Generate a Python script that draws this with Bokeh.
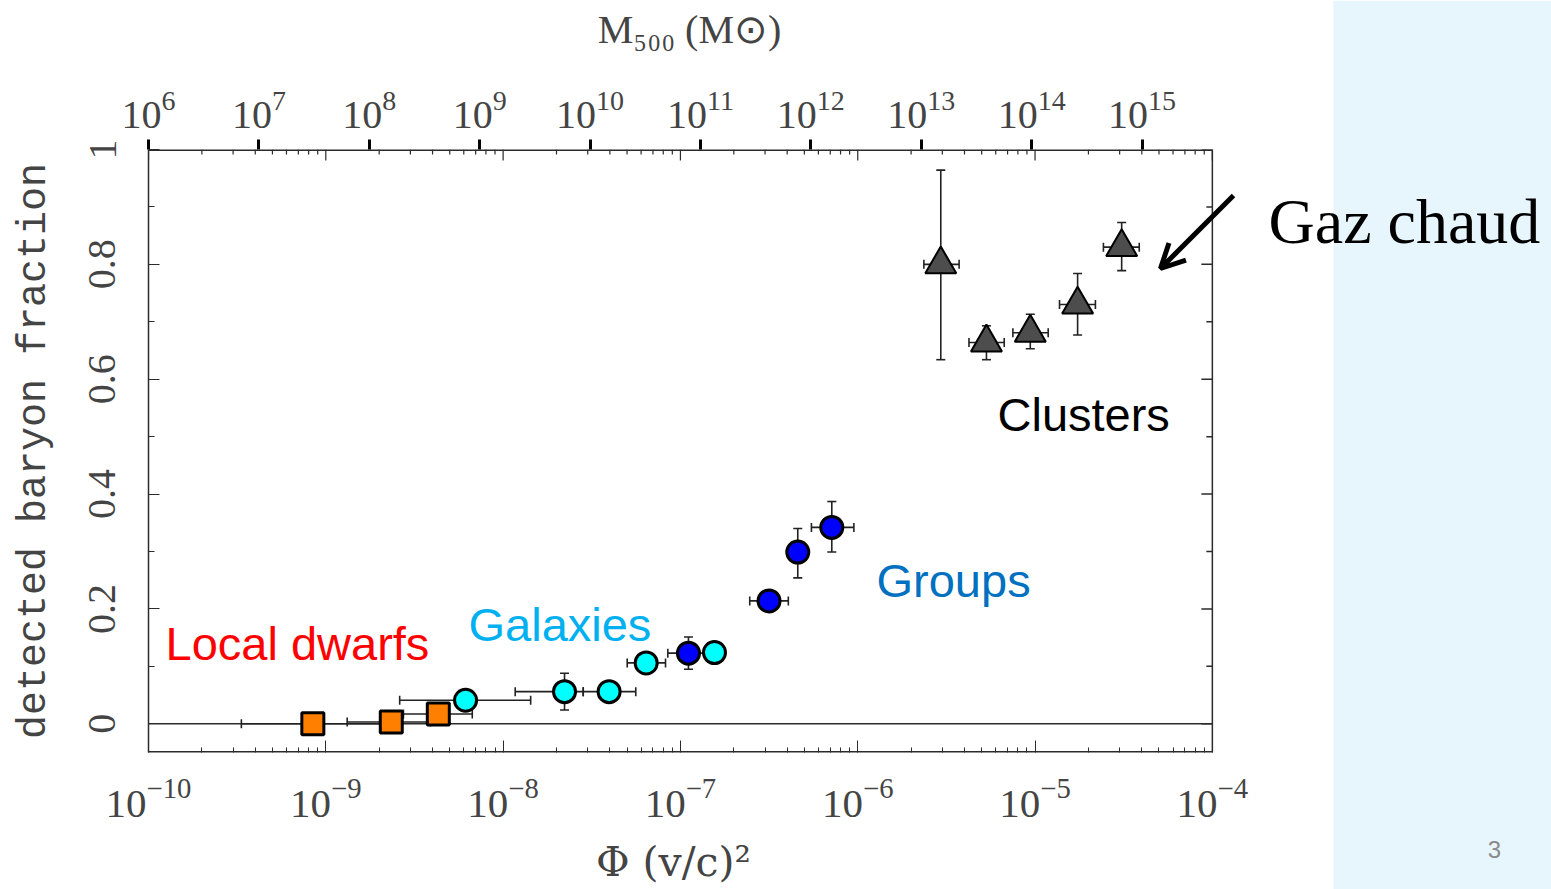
from bokeh.plotting import figure
from bokeh.layouts import row
from bokeh.core.properties import value
from bokeh.models import (LogAxis, Range1d, LogScale, Whisker, TeeHead,
                          ColumnDataSource, Label, Arrow, OpenHead, FixedTicker)
from bokeh.embed import file_html
from bokeh.resources import INLINE

# ---- data: potential depth Phi = (v/c)^2 and detected baryon fraction ----
# Local dwarfs
dwarf_phi = [8.45e-10, 2.34e-9, 4.31e-9]
dwarf_phi_lo = [3.34e-10, 1.32e-9, 2.74e-9]
dwarf_phi_hi = [2.11e-9, 3.89e-9, 6.70e-9]
dwarf_fb = [0.0, 0.003, 0.017]
dwarf_fb_lo = [0.0, 0.003, 0.017]
dwarf_fb_hi = [0.0, 0.003, 0.017]

# Galaxies
gal_phi = [6.14e-9, 2.22e-8, 3.96e-8, 6.41e-8, 1.556e-7]
gal_phi_lo = [2.61e-9, 1.17e-8, 2.83e-8, 5.01e-8, 1.556e-7]
gal_phi_hi = [1.43e-8, 2.83e-8, 5.60e-8, 8.24e-8, 1.556e-7]
gal_fb = [0.041, 0.056, 0.056, 0.106, 0.124]
gal_fb_lo = [0.041, 0.024, 0.056, 0.106, 0.124]
gal_fb_hi = [0.041, 0.088, 0.056, 0.106, 0.124]

# Groups
grp_phi = [1.11e-7, 3.16e-7, 4.59e-7, 7.14e-7]
grp_phi_lo = [8.49e-8, 2.46e-7, 4.59e-7, 5.48e-7]
grp_phi_hi = [1.46e-7, 4.06e-7, 4.59e-7, 9.51e-7]
grp_fb = [0.123, 0.214, 0.299, 0.342]
grp_fb_lo = [0.095, 0.214, 0.254, 0.299]
grp_fb_hi = [0.151, 0.214, 0.340, 0.387]

# Clusters (hot gas)
cl_phi = [2.94e-6, 5.32e-6, 9.40e-6, 1.738e-5, 3.08e-5]
cl_phi_lo = [2.36e-6, 4.24e-6, 7.50e-6, 1.374e-5, 2.43e-5]
cl_phi_hi = [3.73e-6, 6.70e-6, 1.186e-5, 2.19e-5, 3.87e-5]
cl_fb = [0.800, 0.664, 0.681, 0.730, 0.830]
cl_fb_lo = [0.634, 0.634, 0.653, 0.677, 0.789]
cl_fb_hi = [0.964, 0.693, 0.713, 0.784, 0.873]

# ---- axes ----
phi_exponents = [-10, -9, -8, -7, -6, -5, -4]
mass_exponents = [6, 7, 8, 9, 10, 11, 12, 13, 14, 15]
fb_ticks = [0, 0.2, 0.4, 0.6, 0.8, 1]
fb_tick_labels = ["0", "0.2", "0.4", "0.6", "0.8", "1"]
fb_minor = [0.1, 0.3, 0.5, 0.7, 0.9]
phi_box = (1e-10, 1e-4)          # extent of the drawn plot box
fb_box = (-0.05, 1.0)

TICK_FONT = "Liberation Serif"
SPINE = "#2b2b2b"
PX_PER_DECADE = 177.3   # horizontal scale of the Phi axis
PX_PER_UNIT = 575.0     # vertical scale of the fraction axis

# The frame runs a little past the plot box so the pointer arrow and the
# last tick label have room; the box itself is drawn explicitly.
p = figure(width=1252, height=889, x_axis_type="log",
           x_range=(1e-10, 1.641e-4), y_range=fb_box,
           output_backend="svg", toolbar_location=None,
           min_border_left=148, min_border_right=2,
           min_border_top=149, min_border_bottom=137,
           background_fill_color="white", border_fill_color="white")
p.frame_align = False
p.grid.visible = False
p.outline_line_color = None

phi_major = [10.0 ** e for e in phi_exponents]
phi_minor = [k * 10.0 ** e for e in phi_exponents[:-1] for k in range(2, 10)]

# bottom axis: Phi
xa = p.xaxis[0]
xa.ticker = FixedTicker(ticks=phi_major, minor_ticks=phi_minor)
xa.axis_label = "\u03a6  (v/c)\u00b2\u00a0\u00a0\u00a0"
xa.axis_label_text_font = "DejaVu Serif"
xa.axis_label_text_font_size = "41px"
xa.axis_label_text_font_style = "normal"
xa.axis_label_standoff = 18
xa.major_label_text_font = TICK_FONT
xa.major_label_text_font_size = "41px"
xa.major_label_standoff = 26
xa.major_tick_in = 12
xa.major_tick_out = 0
xa.minor_tick_in = 5
xa.minor_tick_out = 0
xa.axis_line_color = None
xa.major_tick_line_color = SPINE
xa.minor_tick_line_color = SPINE

# left axis: baryon fraction
ya = p.yaxis[0]
ya.ticker = FixedTicker(ticks=fb_ticks, minor_ticks=fb_minor)
ya.major_label_overrides = {t: s for t, s in zip(fb_ticks, fb_tick_labels)}
ya.major_label_orientation = "vertical"
ya.axis_label = "detected baryon fraction"
ya.axis_label_text_font = "Liberation Mono"
ya.axis_label_text_font_size = "40px"
ya.axis_label_text_font_style = "normal"
ya.axis_label_standoff = 30
ya.major_label_text_font = TICK_FONT
ya.major_label_text_font_size = "40px"
ya.major_label_standoff = 33
ya.major_tick_in = 11
ya.major_tick_out = 0
ya.minor_tick_in = 6
ya.minor_tick_out = 0
ya.axis_line_color = SPINE
ya.axis_line_width = 1.5
ya.major_tick_line_color = SPINE
ya.minor_tick_line_color = SPINE

# top axis: halo mass M500
p.extra_x_ranges = {"mass": Range1d(1e6, 9.6e15)}
p.extra_x_scales = {"mass": LogScale()}
ta = LogAxis(x_range_name="mass",
             ticker=FixedTicker(ticks=[10.0 ** e for e in mass_exponents], minor_ticks=[]),
             axis_label="M\u2085\u2080\u2080 (M\u2299)\u00a0\u00a0",
             axis_label_text_font=TICK_FONT, axis_label_text_font_size="40px",
             axis_label_text_font_style="normal", axis_label_standoff=36,
             major_label_text_font=TICK_FONT, major_label_text_font_size="40px",
             major_label_standoff=12,
             major_tick_out=10, major_tick_in=0, major_tick_line_width=3,
             major_tick_line_color="black", axis_line_color=None)
p.add_layout(ta, "above")

# plot box: bottom, top (half of each sits on the frame edge) and right side
p.segment(x0=[phi_box[0]] * 2, x1=[phi_box[1]] * 2, y0=list(fb_box), y1=list(fb_box),
          line_color=SPINE, line_width=3)
p.segment(x0=[phi_box[1]], x1=[phi_box[1]], y0=[fb_box[0]], y1=[fb_box[1]],
          line_color=SPINE, line_width=1.5)

# Phi ticks mirrored on the top edge, pointing inward
p.segment(x0=phi_major, x1=phi_major, y0=[1.0] * len(phi_major),
          y1=[1.0 - 11 / PX_PER_UNIT] * len(phi_major), line_color=SPINE, line_width=1.2)
p.segment(x0=phi_minor, x1=phi_minor, y0=[1.0] * len(phi_minor),
          y1=[1.0 - 5 / PX_PER_UNIT] * len(phi_minor), line_color=SPINE, line_width=1.2)

# fraction ticks mirrored on the right edge, pointing inward
x_right = phi_box[1]
p.segment(x0=[x_right] * len(fb_ticks), x1=[x_right * 10 ** (-11 / PX_PER_DECADE)] * len(fb_ticks),
          y0=fb_ticks, y1=fb_ticks, line_color=SPINE, line_width=1.5)
p.segment(x0=[x_right] * len(fb_minor), x1=[x_right * 10 ** (-6 / PX_PER_DECADE)] * len(fb_minor),
          y0=fb_minor, y1=fb_minor, line_color=SPINE, line_width=1.5)

# zero line
p.segment(x0=[phi_box[0]], x1=[phi_box[1]], y0=[0], y1=[0], line_color=SPINE, line_width=1.5)


def add_group(phi, lo, hi, fb, fblo, fbhi, marker, size, fill, line_w):
    src = ColumnDataSource(dict(phi=phi, lo=lo, hi=hi, fb=fb, fblo=fblo, fbhi=fbhi))
    for dim, base, lower, upper in (("width", "fb", "lo", "hi"),
                                     ("height", "phi", "fblo", "fbhi")):
        w = Whisker(source=src, dimension=dim, base=base, lower=lower, upper=upper,
                    line_color="#222222", line_width=1.6, level="glyph",
                    lower_head=TeeHead(size=9, line_color="#222222", line_width=1.6),
                    upper_head=TeeHead(size=9, line_color="#222222", line_width=1.6))
        p.add_layout(w)
    r = p.scatter("phi", "fb", source=src, marker=marker, size=size, fill_color=fill,
                  line_color="black", line_width=line_w)
    r.level = "annotation"


add_group(dwarf_phi, dwarf_phi_lo, dwarf_phi_hi, dwarf_fb, dwarf_fb_lo, dwarf_fb_hi,
          "square", 22, "#ff8000", 3)
add_group(gal_phi, gal_phi_lo, gal_phi_hi, gal_fb, gal_fb_lo, gal_fb_hi,
          "circle", 22, "#00ffff", 3)
add_group(grp_phi, grp_phi_lo, grp_phi_hi, grp_fb, grp_fb_lo, grp_fb_hi,
          "circle", 22, "#0000ff", 3)
add_group(cl_phi, cl_phi_lo, cl_phi_hi, cl_fb, cl_fb_lo, cl_fb_hi,
          "triangle", 31, "#4d4d4d", 2)

# population labels
for txt, x, y, col in (("Local dwarfs", 165, 643, "#ff0000"),
                       ("Galaxies", 468, 624, "#00b0f0"),
                       ("Groups", 876, 580, "#0070c0"),
                       ("Clusters", 997, 414, "#000000")):
    p.add_layout(Label(x=x, y=y, x_units="canvas", y_units="canvas", text=txt,
                       text_font="Liberation Sans", text_font_size="47px",
                       text_color=col, text_baseline="alphabetic"))

# arrow pointing at the hot-gas points
p.add_layout(Arrow(x_start=1233, y_start=195, x_end=1160, y_end=268,
                   start_units="canvas", end_units="canvas",
                   line_width=5, line_color="black",
                   end=OpenHead(size=24, line_width=5, line_color="black")))

# ---- side panel of the slide, in page pixel coordinates ----
side = figure(width=299, height=889, x_range=Range1d(1252, 1551), y_range=Range1d(889, 0),
              output_backend="svg", toolbar_location=None,
              x_axis_location=None, y_axis_location=None, min_border=0,
              background_fill_color="white", border_fill_color="white")
side.frame_align = False
side.grid.visible = False
side.outline_line_color = None
side.quad(left=[1333], right=[1551], top=[0], bottom=[889],
          fill_color="#e7f6fc", line_color=None)
side.text(x=[1268], y=[221], text=["Gaz chaud"], text_font=value("Liberation Serif"),
          text_font_size="64px", text_color="black", text_baseline="alphabetic")
side.text(x=[1494], y=[849], text=["3"], text_font=value("Liberation Sans"),
          text_font_size="24px", text_color="#8a8a8a", text_align="center",
          text_baseline="middle")

layout = row(p, side, spacing=0)
open("out.html", "w").write(file_html(layout, INLINE))
